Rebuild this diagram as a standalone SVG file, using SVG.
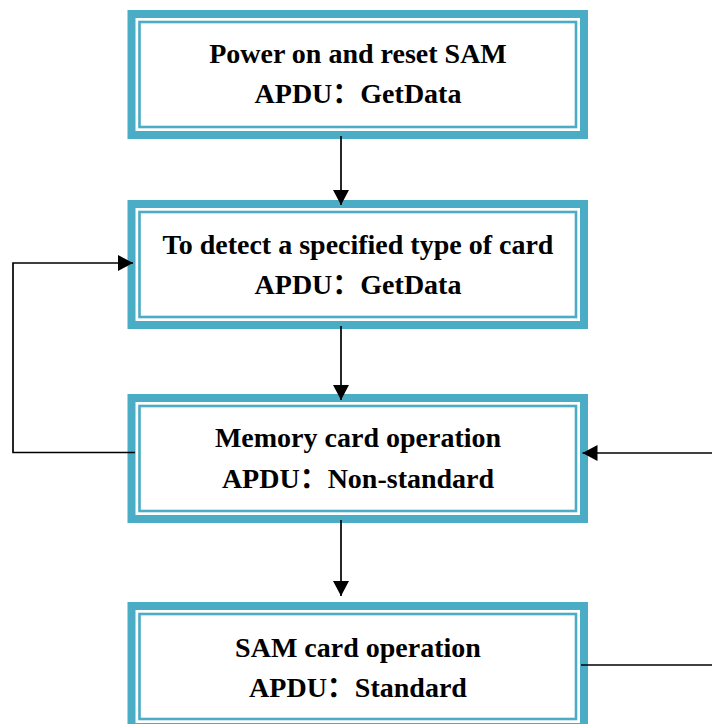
<svg xmlns="http://www.w3.org/2000/svg" width="712" height="724" viewBox="0 0 712 724">
  <style>
    .frame { fill: #ffffff; stroke: #4BACC6; stroke-width: 8; }
    .inner { fill: none; stroke: #4BACC6; stroke-width: 2.6; }
    .label { font-family: "Liberation Serif", "Noto Sans CJK SC", serif; font-weight: bold; font-size: 28px; fill: #000000; text-anchor: middle; }
    .conn { fill: none; stroke: #000000; stroke-width: 1.7; }
  </style>
  <defs>
    <marker id="arrow" markerUnits="userSpaceOnUse" markerWidth="15" markerHeight="16" refX="15" refY="8" orient="auto">
      <path d="M0,0 L15,8 L0,16 z" fill="#000000"/>
    </marker>
  </defs>
  <rect width="712" height="724" fill="#ffffff"/>

  <!-- process boxes: thick outer frame, thin inner frame, two text lines -->
  <g id="node-power-on">
    <rect class="frame" x="131.5" y="14" width="452.5" height="121"/>
    <rect class="inner" x="139.5" y="22" width="436.5" height="105"/>
    <text class="label" x="358" y="63">Power on and reset SAM</text>
    <text class="label" x="358" y="103">APDU：GetData</text>
  </g>

  <g id="node-detect-card">
    <rect class="frame" x="131.5" y="204" width="452.5" height="121"/>
    <rect class="inner" x="139.5" y="212" width="436.5" height="105"/>
    <text class="label" x="358" y="254">To detect a specified type of card</text>
    <text class="label" x="358" y="294">APDU：GetData</text>
  </g>

  <g id="node-memory-card">
    <rect class="frame" x="131.5" y="398" width="452.5" height="121"/>
    <rect class="inner" x="139.5" y="406" width="436.5" height="105"/>
    <text class="label" x="358" y="447">Memory card operation</text>
    <text class="label" x="358" y="488">APDU：Non-standard</text>
  </g>

  <g id="node-sam-card">
    <rect class="frame" x="131.5" y="606" width="452.5" height="121"/>
    <rect class="inner" x="139.5" y="614" width="436.5" height="105"/>
    <text class="label" x="358" y="657">SAM card operation</text>
    <text class="label" x="358" y="697">APDU：Standard</text>
  </g>

  <!-- connectors -->
  <g id="connectors">
    <path class="conn" d="M341,136 V205" marker-end="url(#arrow)"/>
    <path class="conn" d="M341,326 V400" marker-end="url(#arrow)"/>
    <path class="conn" d="M341,520 V596" marker-end="url(#arrow)"/>
    <path class="conn" d="M135,452.5 H13 V263 H133" marker-end="url(#arrow)"/>
    <path class="conn" d="M712,453 H582.5" marker-end="url(#arrow)"/>
    <path class="conn" d="M581,665 H712"/>
  </g>
</svg>
